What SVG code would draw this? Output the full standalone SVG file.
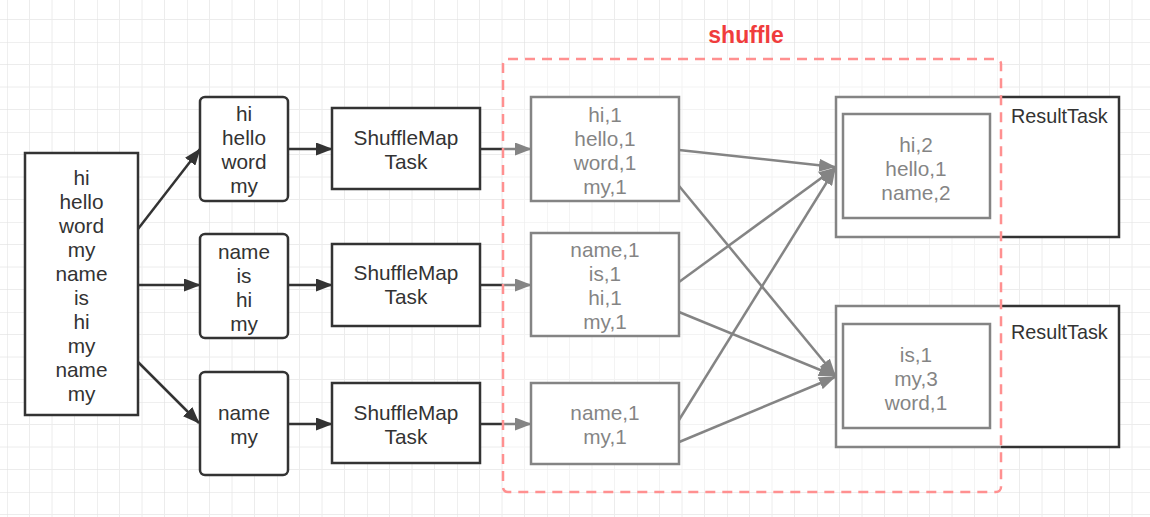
<svg xmlns="http://www.w3.org/2000/svg" width="1150" height="517" viewBox="0 0 1150 517">
<defs>
<pattern id="grid" patternUnits="userSpaceOnUse" x="7" y="42" width="90" height="90">
<path d="M22.5,0V90M45,0V90M67.5,0V90M0,22.5H90M0,45H90M0,67.5H90" stroke="#ececec" stroke-width="1" fill="none"/>
<path d="M0,0V90M0,0H90" stroke="#e0e0e0" stroke-width="1" fill="none"/>
</pattern>
<marker id="arr" markerUnits="userSpaceOnUse" viewBox="0 0 17 13" markerWidth="17" markerHeight="13" refX="16" refY="6.5" orient="auto">
<path d="M0,0 L17,6.5 L0,13 z" fill="#333"/>
</marker>
<style>
.box{fill:#fff;stroke:#333;stroke-width:2.5}
.t{font-family:"Liberation Sans",Arial,sans-serif;font-size:20.8px;fill:#333;text-anchor:middle}
.tl{font-family:"Liberation Sans",Arial,sans-serif;font-size:19.8px;fill:#333}
.c{stroke:#333;stroke-width:2.5;fill:none;marker-end:url(#arr)}
</style>
</defs>
<rect width="1150" height="517" fill="#fff"/>
<rect width="1150" height="517" fill="url(#grid)"/>

<g id="connectors">
<line class="c" x1="138" y1="229" x2="200" y2="149"/>
<line class="c" x1="138" y1="285" x2="200" y2="285"/>
<line class="c" x1="138" y1="362" x2="199" y2="423"/>
<line class="c" x1="288" y1="149" x2="332" y2="149"/>
<line class="c" x1="288" y1="285" x2="332" y2="285"/>
<line class="c" x1="288" y1="424" x2="332" y2="424"/>
<line class="c" x1="480" y1="149" x2="531" y2="149"/>
<line class="c" x1="480" y1="285" x2="531" y2="285"/>
<line class="c" x1="480" y1="424" x2="531" y2="424"/>
<line class="c" x1="679" y1="150" x2="835" y2="167"/>
<line class="c" x1="670" y1="175" x2="835" y2="375"/>
<line class="c" x1="679" y1="282" x2="835" y2="168"/>
<line class="c" x1="679" y1="312" x2="835" y2="376"/>
<line class="c" x1="679" y1="420" x2="835" y2="169"/>
<line class="c" x1="672" y1="445" x2="835" y2="377"/>
</g>

<g id="input">
<rect class="box" x="25" y="153" width="113" height="262"/>
<text class="t" x="81.5" y="185">hi</text>
<text class="t" x="81.5" y="209">hello</text>
<text class="t" x="81.5" y="233">word</text>
<text class="t" x="81.5" y="257">my</text>
<text class="t" x="81.5" y="281">name</text>
<text class="t" x="81.5" y="305">is</text>
<text class="t" x="81.5" y="329">hi</text>
<text class="t" x="81.5" y="353">my</text>
<text class="t" x="81.5" y="377">name</text>
<text class="t" x="81.5" y="401">my</text>
</g>

<g id="split1">
<rect class="box" x="200" y="97" width="88" height="104" rx="5"/>
<text class="t" x="244" y="121">hi</text>
<text class="t" x="244" y="145">hello</text>
<text class="t" x="244" y="169">word</text>
<text class="t" x="244" y="193">my</text>
</g>
<g id="split2">
<rect class="box" x="200" y="234" width="88" height="104" rx="5"/>
<text class="t" x="244" y="259">name</text>
<text class="t" x="244" y="283">is</text>
<text class="t" x="244" y="307">hi</text>
<text class="t" x="244" y="331">my</text>
</g>
<g id="split3">
<rect class="box" x="200" y="372" width="88" height="103" rx="5"/>
<text class="t" x="244" y="420">name</text>
<text class="t" x="244" y="444">my</text>
</g>

<g id="smt1">
<rect class="box" x="332" y="108" width="148" height="81"/>
<text class="t" x="406" y="145">ShuffleMap</text>
<text class="t" x="406" y="169">Task</text>
</g>
<g id="smt2">
<rect class="box" x="332" y="244" width="148" height="82"/>
<text class="t" x="406" y="280">ShuffleMap</text>
<text class="t" x="406" y="304">Task</text>
</g>
<g id="smt3">
<rect class="box" x="332" y="383" width="148" height="80"/>
<text class="t" x="406" y="420">ShuffleMap</text>
<text class="t" x="406" y="444">Task</text>
</g>

<g id="out1">
<rect class="box" x="531" y="97" width="148" height="104"/>
<text class="t" x="605" y="122">hi,1</text>
<text class="t" x="605" y="146">hello,1</text>
<text class="t" x="605" y="170">word,1</text>
<text class="t" x="605" y="194">my,1</text>
</g>
<g id="out2">
<rect class="box" x="531" y="233" width="148" height="103"/>
<text class="t" x="605" y="257">name,1</text>
<text class="t" x="605" y="281">is,1</text>
<text class="t" x="605" y="305">hi,1</text>
<text class="t" x="605" y="329">my,1</text>
</g>
<g id="out3">
<rect class="box" x="531" y="383" width="148" height="81"/>
<text class="t" x="605" y="420">name,1</text>
<text class="t" x="605" y="444">my,1</text>
</g>

<g id="result1">
<rect class="box" x="836" y="97" width="283" height="140"/>
<rect class="box" x="843" y="114" width="147" height="104"/>
<text class="t" x="916" y="152">hi,2</text>
<text class="t" x="916" y="176">hello,1</text>
<text class="t" x="916" y="200">name,2</text>
<text class="tl" x="1011" y="123">ResultTask</text>
</g>
<g id="result2">
<rect class="box" x="836" y="306" width="283" height="141"/>
<rect class="box" x="843" y="324" width="147" height="104"/>
<text class="t" x="916" y="362">is,1</text>
<text class="t" x="916" y="386">my,3</text>
<text class="t" x="916" y="410">word,1</text>
<text class="tl" x="1011" y="339">ResultTask</text>
</g>

<g id="shuffle">
<rect x="503" y="59" width="498" height="433" rx="5" fill="#fff" fill-opacity="0.4" stroke="#ff9090" stroke-width="2.5" stroke-dasharray="10 7"/>
<text x="746" y="43" font-family="'Liberation Sans',Arial,sans-serif" font-size="23" font-weight="bold" fill="#f03c3c" text-anchor="middle">shuffle</text>
</g>
</svg>
